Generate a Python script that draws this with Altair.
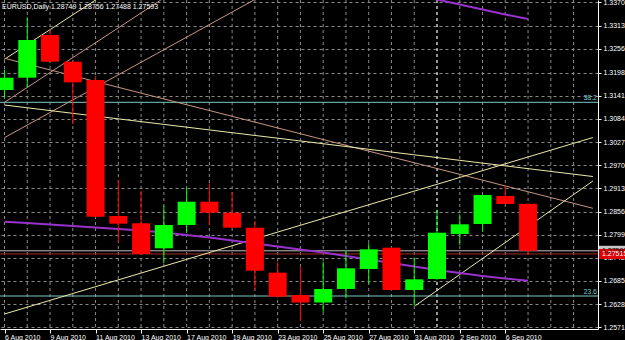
import altair as alt
import pandas as pd

# ---------------- data ----------------
bar_dates = ["5 Aug 2010", "6 Aug 2010", "9 Aug 2010", "10 Aug 2010", "11 Aug 2010", "12 Aug 2010",
             "13 Aug 2010", "16 Aug 2010", "17 Aug 2010", "18 Aug 2010", "19 Aug 2010", "20 Aug 2010",
             "23 Aug 2010", "24 Aug 2010", "25 Aug 2010", "26 Aug 2010", "27 Aug 2010", "30 Aug 2010",
             "31 Aug 2010", "1 Sep 2010", "2 Sep 2010", "3 Sep 2010", "6 Sep 2010", "7 Sep 2010"]
opens = [1.31550, 1.31853, 1.32904, 1.32247, 1.31797, 1.28449, 1.28270, 1.27654, 1.28228, 1.28801,
         1.28531, 1.28161, 1.27054, 1.26505, 1.26320, 1.26653, 1.27145, 1.27669, 1.26628, 1.26899,
         1.28006, 1.28252, 1.28942, 1.28749]
highs = [1.32050, 1.33340, 1.33044, 1.32260, 1.31895, 1.29335, 1.29072, 1.28703, 1.29146, 1.29254,
         1.29033, 1.28326, 1.27325, 1.27202, 1.27325, 1.27613, 1.27777, 1.27680, 1.27423, 1.28597,
         1.28491, 1.28980, 1.29195, 1.28756]
lows = [1.31350, 1.31617, 1.32247, 1.30714, 1.28420, 1.27802, 1.27500, 1.27285, 1.28024, 1.28228,
        1.28150, 1.26628, 1.26440, 1.25865, 1.26094, 1.26424, 1.26768, 1.26610, 1.26242, 1.26880,
        1.27736, 1.28063, 1.28730, 1.27488]
closes = [1.31853, 1.32781, 1.32247, 1.31740, 1.28432, 1.28260, 1.27514, 1.28228, 1.28801, 1.28531,
          1.28161, 1.27103, 1.26463, 1.26320, 1.26653, 1.27162, 1.27630, 1.26628, 1.26891, 1.28038,
          1.28245, 1.28966, 1.28745, 1.27593]

# purple indicator lines
ma_low_vals = [1.28309, 1.28277, 1.28240, 1.28203, 1.28166, 1.28129, 1.28092, 1.28043, 1.27982, 1.27920,
               1.27846, 1.27773, 1.27699, 1.27625, 1.27551, 1.27465, 1.27379, 1.27293, 1.27206, 1.27120,
               1.27046, 1.26973, 1.26911, 1.26857]
ma_high_bars = [18, 19, 20, 21, 22, 23]
ma_high_vals = [1.33889, 1.33778, 1.33655, 1.33532, 1.33409, 1.33298]

# drawn trend lines (bar index / price at both ends)
trend_color = ["#EEE8AA", "#C89682", "#C89682", "#C89682", "#EEE8AA", "#EEE8AA", "#EEE8AA"]
trend_bar_a = [0.0, 0.0, 0.0, 0.0, 0.0, 0.0, 18.05]
trend_price_a = [1.32307, 1.31248, 1.30379, 1.32331, 1.31181, 1.26037, 1.26242]
trend_bar_b = [4.0, 6.87, 10.96, 25.85, 25.85, 25.85, 25.85]
trend_price_b = [1.33766, 1.33766, 1.33766, 1.28639, 1.29421, 1.30381, 1.29311]

# horizontal levels
fib_levels = [1.31248, 1.26480]
fib_labels = ["38.2", "23.6"]
red_level = 1.27515

# axis ticks
time_tick_bars = [0, 2, 4, 6, 8, 10, 12, 14, 16, 18, 20, 22]
time_tick_labels = ["6 Aug 2010", "9 Aug 2010", "11 Aug 2010", "13 Aug 2010", "17 Aug 2010",
                    "19 Aug 2010", "23 Aug 2010", "25 Aug 2010", "27 Aug 2010", "31 Aug 2010",
                    "2 Sep 2010", "6 Sep 2010"]
price_ticks = [1.33705, 1.33135, 1.32565, 1.31980, 1.31410, 1.30840, 1.30270, 1.29700, 1.29130,
               1.28560, 1.27990, 1.27420, 1.26850, 1.26280, 1.25710]

symbol_title = "EURUSD,Daily"

# ---------------- tables ----------------
n = len(bar_dates)
candles = pd.DataFrame({
    "bar": list(range(n)), "date": bar_dates, "open": opens, "high": highs,
    "low": lows, "close": closes,
})
candles["col"] = ["#00FF00" if c >= o else "#FF0000" for o, c in zip(opens, closes)]

ma_low = pd.DataFrame({"bar": list(range(n)), "v": ma_low_vals})
ma_high = pd.DataFrame({"bar": ma_high_bars, "v": ma_high_vals})
trends = pd.DataFrame({"xa": trend_bar_a, "ya": trend_price_a, "xb": trend_bar_b,
                       "yb": trend_price_b, "col": trend_color})
fibs = pd.DataFrame({"p": fib_levels, "t": fib_labels})
grid_bars = pd.DataFrame({"bar": list(range(n + 2))})
months = [d.split(" ")[1] for d in bar_dates]
sep_bars = pd.DataFrame({"bar": [i for i in range(1, n) if months[i] != months[i - 1]]})
last_close = closes[-1]
boxes = pd.DataFrame({"p": [last_close, red_level],
                      "fill": ["#C8C8C8", "#E00000"],
                      "tc": ["#000000", "#FFFFFF"],
                      "t": [f"{last_close:.5f}", f"{red_level:.5f}"]})
hlines = pd.DataFrame({"p": [last_close, red_level], "col": ["#C0B8B8", "#A02828"]})
title_df = pd.DataFrame({"t": [f"{symbol_title}  {opens[-1]:.5f} {highs[-1]:.5f} {lows[-1]:.5f} {closes[-1]:.5f}"]})

FONT = "Liberation Sans"
FS = 7
W, H = 598, 329
xs = alt.Scale(domain=[0.0216, 25.853], nice=False, zero=False)
ys = alt.Scale(domain=[1.25668, 1.33766], nice=False, zero=False)

bars_js = "[" + ",".join(str(b) for b in time_tick_bars) + "]"
labels_js = "[" + ",".join("'" + s + "'" for s in time_tick_labels) + "]"
x_axis = alt.Axis(values=time_tick_bars, labelExpr=f"{labels_js}[indexof({bars_js}, datum.value)]",
                  grid=False, domainColor="#FFFFFF", tickColor="#FFFFFF", tickSize=4,
                  labelColor="#FFFFFF", labelFont=FONT, labelFontSize=FS, labelAlign="left",
                  labelBaseline="alphabetic", labelPadding=6, labelFlush=False,
                  labelOverlap=False, title=None, orient="bottom")
y_axis = alt.Axis(values=price_ticks, format=".5f", orient="right", grid=True,
                  gridColor="#8A8A8A", gridDash=[3, 3], gridWidth=1,
                  domainColor="#FFFFFF", tickColor="#FFFFFF", tickSize=3,
                  labelColor="#FFFFFF", labelFont=FONT, labelFontSize=FS, labelPadding=2,
                  labelFlush=False, labelOverlap=False, title=None)


def X(f):
    return alt.X(f, type="quantitative", scale=xs, axis=x_axis)


def Y(f):
    return alt.Y(f, type="quantitative", scale=ys, axis=y_axis)


vgrid = alt.Chart(grid_bars).mark_rule(color="#8A8A8A", strokeDash=[3, 3], strokeWidth=1, clip=True).encode(
    x=X("bar"))
sep = alt.Chart(sep_bars).mark_rule(color="#E8E8E8", strokeDash=[3, 3], strokeWidth=1, clip=True).encode(
    x=X("bar"))
fib_rules = alt.Chart(fibs).mark_rule(color="#78C8C8", strokeWidth=1).encode(y=Y("p"))
fib_text = alt.Chart(fibs).mark_text(color="#78C8C8", font=FONT, fontSize=FS, align="right",
                                     baseline="bottom", dy=-1).encode(
    y=Y("p"), x=alt.value(597), text="t:N")
h_rules = alt.Chart(hlines).mark_rule(strokeWidth=1).encode(
    y=Y("p"), color=alt.Color("col:N", scale=None))
trend_rules = alt.Chart(trends).mark_rule(strokeWidth=1, clip=True).encode(
    x=X("xa"), x2="xb", y=Y("ya"), y2="yb", color=alt.Color("col:N", scale=None))
ma1 = alt.Chart(ma_low).mark_line(color="#9932CC", strokeWidth=2, clip=True).encode(x=X("bar"), y=Y("v"))
ma2 = alt.Chart(ma_high).mark_line(color="#9932CC", strokeWidth=2, clip=True).encode(x=X("bar"), y=Y("v"))
wicks = alt.Chart(candles).mark_rule(strokeWidth=1, clip=True).encode(
    x=X("bar"), y=Y("low"), y2="high", color=alt.Color("col:N", scale=None))
bodies = alt.Chart(candles).mark_bar(size=18, clip=True).encode(
    x=X("bar"), y=Y("open"), y2="close", color=alt.Color("col:N", scale=None),
    tooltip=["date", "open", "high", "low", "close"])
box_rects = alt.Chart(boxes).mark_rect(yOffset=-5, y2Offset=5).encode(
    y=Y("p"), y2="p", x=alt.value(599), x2=alt.value(630), color=alt.Color("fill:N", scale=None))
box_text = alt.Chart(boxes).mark_text(font=FONT, fontSize=FS, align="left", baseline="middle").encode(
    y=Y("p"), x=alt.value(602), text="t:N", color=alt.Color("tc:N", scale=None))
title_text = alt.Chart(title_df).mark_text(font=FONT, fontSize=FS, align="left", baseline="middle",
                                           color="#FFFFFF").encode(
    x=alt.value(2), y=alt.value(7), text="t:N")

chart = alt.layer(
    vgrid, sep, fib_rules, h_rules, trend_rules, ma1, ma2, wicks, bodies,
    fib_text, box_rects, box_text, title_text
).properties(
    width=W, height=H, autosize=alt.AutoSizeParams(type="none"),
    padding={"left": 0, "top": 0, "right": 27, "bottom": 11},
    background="#000000"
).configure_view(stroke=None, fill="#000000")

chart.save("out.html", embed_options={"renderer": "svg", "actions": False})
